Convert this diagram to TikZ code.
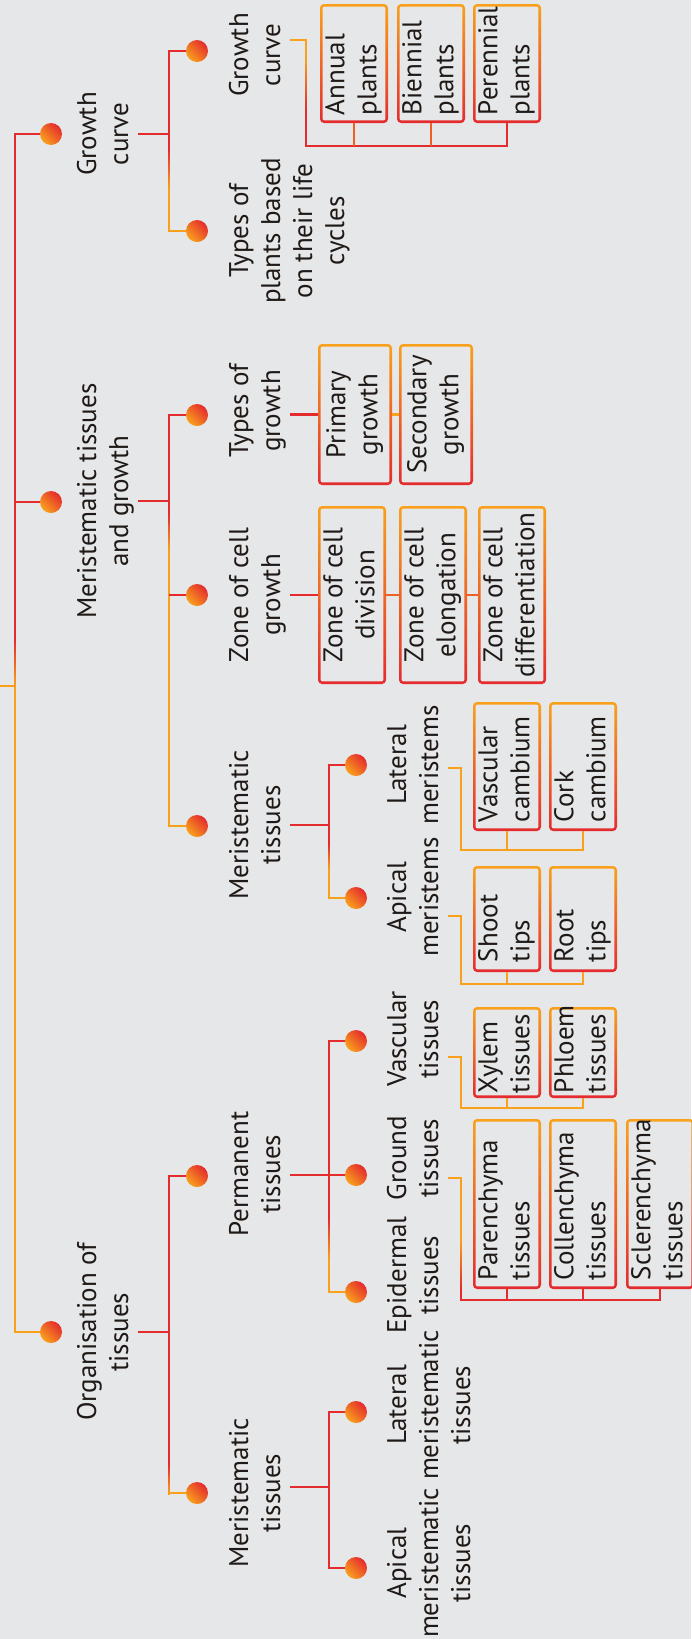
\documentclass[tikz,border=0pt]{standalone}
\usepackage{fontspec}
\setmainfont{PT Sans}
\usepackage{graphicx}
\definecolor{bgC}{HTML}{E6E7E8}
\definecolor{redC}{HTML}{E42B2E}
\definecolor{orgC}{HTML}{F9A11C}
\definecolor{txtC}{HTML}{1F1A17}
\newcommand{\lfont}{\fontsize{27}{32}\selectfont}
\newcommand{\bl}[2]{\rotatebox{90}{\parbox{#1pt}{\raggedright\hyphenpenalty=10000 #2}}}
\newcommand{\bc}[2]{\rotatebox{90}{\parbox{#1pt}{\centering\hyphenpenalty=10000 #2}}}
% vertical gradient line: x, y-start, y-end, colour at start, colour at end
\newcommand{\gradv}[5]{%
  \foreach \i in {0,...,11}{%
    \pgfmathsetmacro\ya{#2+(#3-#2)*\i/12-0.25}%
    \pgfmathsetmacro\yb{#2+(#3-#2)*(\i+1)/12+0.25}%
    \pgfmathtruncatemacro\pc{100*(\i+0.5)/12}%
    \draw[line width=2.6pt, draw=#5!\pc!#4] (#1,\ya) -- (#1,\yb);}}
\tikzset{
  lbl/.style={rotate=90, anchor=north, align=center, inner sep=0pt, font=\lfont, text=txtC},
  dot/.style={circle, minimum size=22pt, inner sep=0pt, left color=orgC, right color=redC, shading angle=135},
  rl/.style={draw=redC, line width=2.6pt},
  ol/.style={draw=orgC, line width=2.6pt},
  ml/.style={draw=redC!55!orgC, line width=2.6pt},
  bx/.style={rectangle, rounded corners=4pt, inner sep=0pt, font=\lfont, text=txtC,
    top color=orgC, bottom color=redC, minimum width=68pt,
    path picture={\fill[bgC, rounded corners=2pt]
      ([shift={(2.6pt,2.6pt)}]path picture bounding box.south west) rectangle
      ([shift={(-2.6pt,-2.6pt)}]path picture bounding box.north east);}},
}
\begin{document}
\begin{tikzpicture}[x=1pt,y=-1pt]
\useasboundingbox (0,0) rectangle (691,1639);
\fill[bgC] (0,0) rectangle (691,1639);
% ---------- helper coordinates
\coordinate (rin) at (0,686);
\coordinate (v1) at (15,686);
\coordinate (v2) at (169,0);
\coordinate (v3) at (329,0);
\coordinate (vg) at (306,0);
\coordinate (vb) at (461,0);
\coordinate (hA) at (0,146);
\coordinate (h3a) at (0,850);
\coordinate (h3b) at (0,984);
\coordinate (h3c) at (0,1108);
\coordinate (h3d) at (0,1300);
% ---------- dots
\node[dot] (d1a) at (51,134) {};
\node[dot] (d1b) at (51,502) {};
\node[dot] (d1c) at (51,1332) {};
\node[dot] (d2a) at (197,51) {};
\node[dot] (d2b) at (197,231) {};
\node[dot] (d2c) at (197,415) {};
\node[dot] (d2d) at (197,595) {};
\node[dot] (d2e) at (197,826) {};
\node[dot] (d2f) at (197,1176) {};
\node[dot] (d2g) at (197,1493) {};
\node[dot] (d3a) at (356,765) {};
\node[dot] (d3b) at (356,898) {};
\node[dot] (d3c) at (356,1041) {};
\node[dot] (d3d) at (356,1175) {};
\node[dot] (d3e) at (356,1292) {};
\node[dot] (d3f) at (356,1412) {};
\node[dot] (d3g) at (356,1568) {};
% ---------- labels
\node[lbl] (L1a) at (73.6,134) {\strut Growth\\\strut curve};
\node[lbl] (L1b) at (73.6,501) {\strut Meristematic tissues\\\strut and growth};
\node[lbl] (L1c) at (73.6,1332) {\strut Organisation of\\\strut tissues};
\node[lbl] (L2a) at (225.6,55) {\strut Growth\\\strut curve};
\node[lbl] (L2b) at (225.6,231) {\strut Types of\\\strut plants based\\\strut on their life\\\strut cycles};
\node[lbl] (L2c) at (225.6,411) {\strut Types of\\\strut growth};
\node[lbl] (L2d) at (225.6,595) {\strut Zone of cell\\\strut growth};
\node[lbl] (L2e) at (225.6,825) {\strut Meristematic\\\strut tissues};
\node[lbl] (L2f) at (225.6,1174) {\strut Permanent\\\strut tissues};
\node[lbl] (L2g) at (225.6,1493) {\strut Meristematic\\\strut tissues};
\node[lbl] (L3a) at (383.6,765) {\strut Lateral\\\strut meristems};
\node[lbl] (L3b) at (383.6,897) {\strut Apical\\\strut meristems};
\node[lbl] (L3c) at (383.6,1039) {\strut Vascular\\\strut tissues};
\node[lbl] (L3d) at (383.6,1158) {\strut Ground\\\strut tissues};
\node[lbl] (L3e) at (383.6,1275) {\strut Epidermal\\\strut tissues};
\node[lbl] (L3f) at (383.6,1405) {\strut Lateral\\\strut meristematic\\\strut tissues};
\node[lbl] (L3g) at (383.6,1563) {\strut Apical\\\strut meristematic\\\strut tissues};
% ---------- boxes
\node[bx, minimum height=119pt] (annual) at (354,63.5) {\bl{103}{\strut Annual\\\strut plants}};
\node[bx, minimum height=119pt] (biennial) at (431,63.5) {\bl{103}{\strut Biennial\\\strut plants}};
\node[bx, minimum height=119pt] (perennial) at (507,63.5) {\bl{103}{\strut Perennial\\\strut plants}};
\node[bx, minimum width=74pt, minimum height=141pt] (primary) at (355,414.5) {\bc{125}{\strut Primary\\\strut growth}};
\node[bx, minimum width=74pt, minimum height=141pt] (secondary) at (436,414.5) {\bc{125}{\strut Secondary\\\strut growth}};
\node[bx, minimum height=178pt] (division) at (352,595) {\bc{166}{\strut Zone of cell\\\strut division}};
\node[bx, minimum height=178pt] (elongation) at (433,595) {\bc{166}{\strut Zone of cell\\\strut elongation}};
\node[bx, minimum height=178pt] (differentiation) at (512,595) {\bc{166}{\strut Zone of cell\\\strut differentiation}};
\node[bx, minimum height=129pt] (vcambium) at (507,766.5) {\bl{111}{\strut Vascular\\\strut cambium}};
\node[bx, minimum height=129pt] (ccambium) at (583,766.5) {\bl{111}{\strut Cork\\\strut cambium}};
\node[bx, minimum height=106pt] (shoot) at (507,919) {\bl{86}{\strut Shoot\\\strut tips}};
\node[bx, minimum height=106pt] (root) at (583,919) {\bl{86}{\strut Root\\\strut tips}};
\node[bx, minimum height=91pt] (xylem) at (507,1052.5) {\bl{81}{\strut Xylem\\\strut tissues}};
\node[bx, minimum height=91pt] (phloem) at (583,1052.5) {\bl{81}{\strut Phloem\\\strut tissues}};
\node[bx, minimum height=170pt] (paren) at (507,1204) {\bl{152}{\strut Parenchyma\\\strut tissues}};
\node[bx, minimum height=170pt] (collen) at (583,1204) {\bl{152}{\strut Collenchyma\\\strut tissues}};
\node[bx, minimum height=170pt] (scler) at (660,1204) {\bl{152}{\strut Sclerenchyma\\\strut tissues}};
% ---------- root connectors
\draw[ol] (rin) -- (v1);
\draw[rl] (d1a.west) -- (v1 |- d1a) -- (15,640);
\gradv{15}{640}{686}{redC}{orgC}
\draw[ol] (v1) -- (v1 |- d1c) -- (d1c.west);
\draw[rl] (v1 |- d1b) -- (d1b.west);
% ---------- group A: Growth curve
\draw[rl] (L1a.south) -- (L1a.south -| v2);
\draw[rl] (d2a.west) -- (v2 |- d2a) -- (169,150);
\gradv{169}{150}{190}{redC}{orgC}
\draw[ol] (169,190) -- (v2 |- d2b) -- (d2b.west);
\coordinate (s2a) at ([yshift=15pt]L2a.south);
\draw[ol] (s2a) -- (s2a -| vg) -- (306,60);
\gradv{306}{60}{110}{orgC}{redC}
\draw[rl] (306,110) -- (vg |- hA) -- (hA -| perennial.south) -- (perennial.south);
\draw[ml] (hA -| annual.south) -- (annual.south);
\draw[ml] (hA -| biennial.south) -- (biennial.south);
% ---------- group B: Meristematic tissues and growth
\draw[rl] (L1b.south) -- (L1b.south -| v2);
\draw[rl] (d2c.west) -- (v2 |- d2c) -- (169,515);
\gradv{169}{515}{550}{redC}{orgC}
\draw[ol] (169,550) -- (v2 |- d2e) -- (d2e.west);
\draw[rl] (v2 |- d2d) -- (d2d.west);
\draw[rl] (L2c.south |- primary.west) -- (primary.west);
\draw[ol] (primary.east) -- (secondary.west);
\draw[rl] (L2d.south |- division.west) -- (division.west);
\draw[ml] (division.east) -- (elongation.west);
\draw[ml] (elongation.east) -- (differentiation.west);
\draw[rl] (L2e.south) -- (L2e.south -| v3);
\draw[rl] (d3a.west) -- (v3 |- d3a) -- (329,845);
\gradv{329}{845}{870}{redC}{orgC}
\draw[ol] (329,870) -- (v3 |- d3b) -- (d3b.west);
\coordinate (s3a) at ([yshift=-3pt]L3a.south);
\draw[ol] (s3a) -- (s3a -| vb) -- (vb |- h3a) -- (h3a -| ccambium.south) -- (ccambium.south);
\draw[ol] (h3a -| vcambium.south) -- (vcambium.south);
\coordinate (s3b) at ([yshift=-19pt]L3b.south);
\draw[ol] (s3b) -- (s3b -| vb) -- (vb |- h3b) -- (h3b -| root.south) -- (root.south);
\draw[ol] (h3b -| shoot.south) -- (shoot.south);
% ---------- group C: Organisation of tissues
\draw[rl] (L1c.south) -- (L1c.south -| v2);
\draw[rl] (d2f.west) -- (v2 |- d2f) -- (169,1465);
\gradv{169}{1465}{1494.3}{redC}{orgC}
\draw[ol] (v2 |- d2g) -- (d2g.west);
\draw[rl] (L2f.south |- d3d) -- (d3d.west);
\draw[rl] (d3c.west) -- (v3 |- d3c) -- (329,1220);
\gradv{329}{1220}{1260}{redC}{orgC}
\draw[ol] (329,1260) -- (v3 |- d3e) -- (d3e.west);
\coordinate (s3c) at ([yshift=-18pt]L3c.south);
\draw[ol] (s3c) -- (s3c -| vb) -- (vb |- h3c) -- (h3c -| phloem.south) -- (phloem.south);
\draw[ol] (h3c -| xylem.south) -- (xylem.south);
\coordinate (s3d) at ([yshift=-20pt]L3d.south);
\draw[ol] (s3d) -- (s3d -| vb) -- (461,1240);
\gradv{461}{1240}{1290}{orgC}{redC}
\draw[rl] (461,1290) -- (vb |- h3d) -- (h3d -| scler.south) -- (scler.south);
\draw[rl] (h3d -| paren.south) -- (paren.south);
\draw[rl] (h3d -| collen.south) -- (collen.south);
\coordinate (s2g) at ([yshift=6pt]L2g.south);
\draw[rl] (s2g) -- (s2g -| v3);
\draw[rl] (d3f.west) -- (v3 |- d3f) -- (v3 |- d3g) -- (d3g.west);
\end{tikzpicture}
\end{document}
